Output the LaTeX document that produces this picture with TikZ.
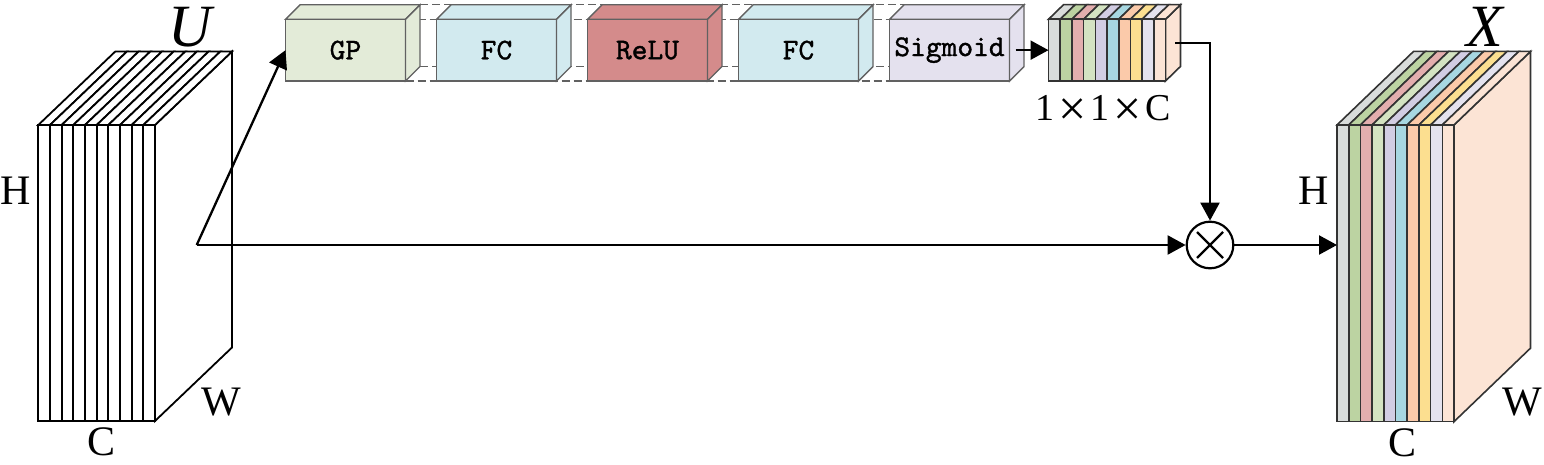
\documentclass[tikz,border=0pt]{standalone}
\usepackage{fontspec}
\setmainfont{Liberation Serif}
\newfontfamily\boxfont{lmmono10-regular}[Extension=.otf, FakeBold=1.2]
\usetikzlibrary{arrows.meta,calc,backgrounds}
\definecolor{s1}{HTML}{D9DCDB}
\definecolor{s2}{HTML}{BCD3A2}
\definecolor{s3}{HTML}{E3AEAE}
\definecolor{s4}{HTML}{D4E3C2}
\definecolor{s5}{HTML}{D2CDE3}
\definecolor{s6}{HTML}{A7D7E1}
\definecolor{s7}{HTML}{FBCAAA}
\definecolor{s8}{HTML}{FCDF90}
\definecolor{s9}{HTML}{E4E2EE}
\definecolor{s10}{HTML}{FCE4D5}
\definecolor{gpc}{HTML}{E3EBD8}
\definecolor{fcc}{HTML}{D2EAEF}
\definecolor{reluc}{HTML}{D48B8B}
\definecolor{sigc}{HTML}{E4E1EE}
\newcommand\cuboidfaces[2]{%
  \filldraw[edge, fill=#2] (#1.north west) -- ++(14.5,-14.5) -- ($(#1.north east)+(14.5,-14.5)$) -- (#1.north east) -- cycle;
  \filldraw[edge, fill=#2] (#1.north east) -- ++(14.5,-14.5) -- ($(#1.south east)+(14.5,-14.5)$) -- (#1.south east) -- cycle;
}
\newcommand\bigtimes{\raisebox{-5pt}{\fontsize{50}{50}\selectfont ×}}
\begin{document}
\begin{tikzpicture}[x=1pt,y=-1pt,
  arr/.style={line width=2.3pt, -{Triangle[length=18pt,width=19pt]}},
  edge/.style={draw=black!62, line width=1.4pt},
  dashedge/.style={draw=black!62, line width=1.4pt, dash pattern=on 8pt off 4pt},
  blk/.style={draw=black, line width=1.8pt},
  cblk/.style={draw=black!80, line width=1.6pt},
  placeholder/.style={inner sep=0pt, outer sep=0pt},
  lbl/.style={font=\fontsize{42}{48}\selectfont, inner sep=0pt},
  ttl/.style={font=\fontsize{60}{66}\selectfont\itshape, inner sep=0pt},
  fbox/.style={edge, minimum width=120pt, minimum height=61.7pt, inner sep=0pt, outer sep=0pt,
    font=\boxfont\fontsize{30}{34}\selectfont},
]
\useasboundingbox (0,0) rectangle (1544,465);

% ---------- U block ----------
\node[placeholder, minimum width=116.7pt, minimum height=296pt] (ublk) at (96.65,273) {};
\filldraw[blk, fill=white] (ublk.north east) -- ++(77,-73.5) -- ++(0,296) -- (ublk.south east) -- cycle;
\foreach \i in {0,...,9} {
  \filldraw[blk, fill=white] ($(ublk.north west)+(\i*11.67,0)$) -- ++(77,-73.5) -- ++(11.67,0)
     -- ($(ublk.north west)+({(\i+1)*11.67},0)$) -- cycle;
  \draw[blk] ($(ublk.north west)+(\i*11.67,0)$) rectangle ($(ublk.south west)+({(\i+1)*11.67},0)$);
}
\node[ttl] (ulbl) at (190.5,27.5) {U};
\node[lbl] (uh) at (16,191) {H};
\node[lbl] (uw) at (221.5,402) {W};
\node[lbl] (uc) at (101.5,442) {C};

% ---------- excitation boxes ----------
\node[fbox, fill=gpc] (gp) at (345.5,50.15) {GP};
\cuboidfaces{gp}{gpc}
\node[fbox, fill=fcc] (fca) at (496.5,50.15) {FC};
\cuboidfaces{fca}{fcc}
\node[fbox, fill=reluc] (relu) at (647.5,50.15) {ReLU};
\cuboidfaces{relu}{reluc}
\node[fbox, fill=fcc] (fcb) at (798.5,50.15) {FC};
\cuboidfaces{fcb}{fcc}
\node[fbox, fill=sigc] (sig) at (949.5,50.15) {Sigmoid};
\cuboidfaces{sig}{sigc}
\begin{pgfonlayer}{background}
  \draw[dashedge] (gp.north west) -- (sig.north east);
  \draw[dashedge] (gp.south west) -- (sig.south east);
  \draw[dashedge] ($(gp.north west)+(14.5,-14.5)$) -- ($(sig.north east)+(14.5,-14.5)$);
  \draw[dashedge] ($(gp.south west)+(14.5,-14.5)$) -- ($(sig.south east)+(14.5,-14.5)$);
\end{pgfonlayer}

% ---------- channel weight vector ----------
\node[placeholder, minimum width=117pt, minimum height=61.7pt] (vec) at (1107,50.15) {};
\filldraw[cblk, fill=s10] (vec.north east) -- ++(15,-14.6) -- ++(0,61.7) -- (vec.south east) -- cycle;
\foreach \i/\c in {0/s1,1/s2,2/s3,3/s4,4/s5,5/s6,6/s7,7/s8,8/s9,9/s10} {
  \filldraw[cblk, fill=\c] ($(vec.north west)+(\i*11.7,0)$) -- ++(15,-14.6) -- ++(11.7,0)
     -- ($(vec.north west)+({(\i+1)*11.7},0)$) -- cycle;
  \filldraw[cblk, fill=\c] ($(vec.north west)+(\i*11.7,0)$) rectangle ($(vec.south west)+({(\i+1)*11.7},0)$);
}
\node[font=\fontsize{38}{44}\selectfont, inner sep=0pt] (veclbl) at (1103,110)
  {1\hspace{4pt}\bigtimes\hspace{4pt}1\hspace{4pt}\bigtimes\hspace{4pt}C};

% ---------- X block ----------
\node[placeholder, minimum width=117pt, minimum height=296.7pt] (xblk) at (1395.5,273.3) {};
\filldraw[cblk, fill=s10] (xblk.north east) -- ++(76.5,-73.5) -- ++(0,296.7) -- (xblk.south east) -- cycle;
\foreach \i/\c in {0/s1,1/s2,2/s3,3/s4,4/s5,5/s6,6/s7,7/s8,8/s9,9/s10} {
  \filldraw[cblk, fill=\c] ($(xblk.north west)+(\i*11.7,0)$) -- ++(76.5,-73.5) -- ++(11.7,0)
     -- ($(xblk.north west)+({(\i+1)*11.7},0)$) -- cycle;
  \filldraw[cblk, fill=\c] ($(xblk.north west)+(\i*11.7,0)$) rectangle ($(xblk.south west)+({(\i+1)*11.7},0)$);
}
\node[ttl] (xlbl) at (1485,26.5) {X};
\node[lbl] (xh) at (1314,191) {H};
\node[lbl] (xw) at (1522.5,402) {W};
\node[lbl] (xc) at (1402,443) {C};

% ---------- operator ----------
\node[draw, circle, line width=2.2pt, minimum size=46.6pt, inner sep=0pt] (ot) at (1210,245) {};
\draw[line width=2.2pt] ($(ot.center)+(-13,-13)$) -- ($(ot.center)+(13,13)$);
\draw[line width=2.2pt] ($(ot.center)+(-13,13)$) -- ($(ot.center)+(13,-13)$);

% ---------- connectors ----------
\coordinate (split) at (196.7,245);
\draw[arr] (split) -- (gp.west);
\draw[arr] (split) -- (ot.west);
\draw[arr] ($(sig.east)+(6,0)$) -- (vec.west);
\draw[arr] ($(vec.east)+(9.5,-7)$) -| (ot.north);
\draw[arr] (ot.east) -- (ot.east -| xblk.west);
\end{tikzpicture}
\end{document}
